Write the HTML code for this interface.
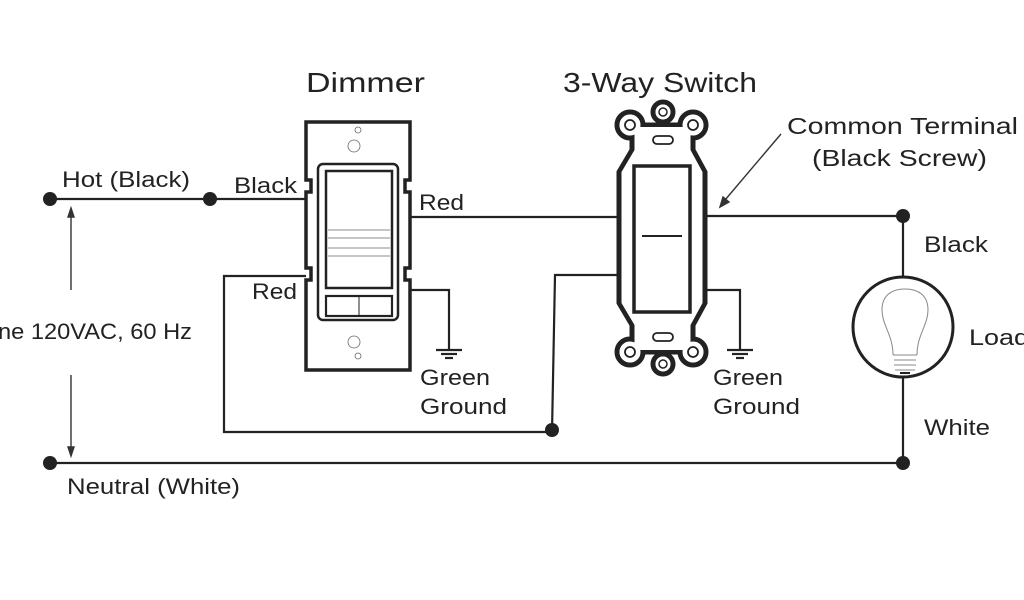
<!DOCTYPE html>
<html><head><meta charset="utf-8"><style>
html,body{margin:0;padding:0;background:#fff;}
svg{display:block;}
text{font-family:"Liberation Sans",sans-serif;fill:#222;}
</style></head><body>
<svg width="1024" height="600" viewBox="0 0 1024 600" xmlns="http://www.w3.org/2000/svg">
<g stroke="#222" fill="none" stroke-width="2.2">
<line x1="50" y1="199" x2="306" y2="199"/>
<line x1="410" y1="217" x2="618" y2="217"/>
<polyline points="306,276 224,276 224,432 552,432"/>
<polyline points="552,432 555,275 618,275"/>
<polyline points="410,290 449,290 449,350"/>
<polyline points="705,290 740,290 740,350"/>
<polyline points="705,216 903,216 903,278"/>
<line x1="903" y1="377" x2="903" y2="463"/>
<line x1="50" y1="463" x2="903" y2="463"/>
<line x1="436" y1="350" x2="462" y2="350"/><line x1="441" y1="354" x2="457" y2="354"/><line x1="445" y1="358" x2="453" y2="358"/>
<line x1="727" y1="350" x2="753" y2="350"/><line x1="732" y1="354" x2="748" y2="354"/><line x1="736" y1="358" x2="744" y2="358"/>
</g>
<g stroke="#333" stroke-width="1.4" fill="#333">
<line x1="71" y1="290" x2="71" y2="214"/><polygon points="71,208 68,217 74,217"/>
<line x1="71" y1="375" x2="71" y2="450"/><polygon points="71,456 68,447 74,447"/>
<line x1="781" y1="134" x2="725" y2="200"/><polygon points="720,207 723,197 729,202"/>
</g>
<g fill="#222">
<circle cx="50" cy="199" r="7"/><circle cx="210" cy="199" r="7"/>
<circle cx="552" cy="430" r="7"/><circle cx="903" cy="216" r="7"/>
<circle cx="903" cy="463" r="7"/><circle cx="50" cy="463" r="7"/>
</g>
<g stroke="#222" fill="#fff">
<path d="M306,122 H410 V180 H405 V192 H410 V268 H405 V280 H410 V370 H306 V280 H311 V268 H306 V192 H311 V180 H306 Z" stroke-width="3.5" fill="#fff"/>
<rect x="318" y="164" width="80" height="156" rx="5" stroke-width="2.5"/>
<rect x="326" y="171" width="66" height="117" stroke-width="2.5"/>
<rect x="326" y="296" width="66" height="20" stroke-width="2.2"/>
<line x1="359" y1="296" x2="359" y2="316" stroke-width="1"/>
<g stroke-width="0.8" stroke="#666" fill="none">
<line x1="328" y1="230" x2="390" y2="230"/><line x1="328" y1="238" x2="390" y2="238"/>
<line x1="328" y1="248" x2="390" y2="248"/><line x1="328" y1="256" x2="390" y2="256"/>
<rect x="348" y="140" width="12" height="12" rx="6"/><circle cx="358" cy="130" r="3"/>
<rect x="348" y="336" width="12" height="12" rx="6"/><circle cx="358" cy="356" r="3"/>
</g>
</g>
<g stroke="#222" stroke-width="5" fill="#fff">
<circle cx="630" cy="125" r="13"/><circle cx="693" cy="125" r="13"/>
<circle cx="630" cy="352" r="13"/><circle cx="693" cy="352" r="13"/>
<circle cx="663" cy="112" r="10"/><circle cx="663" cy="364" r="10"/>
<polygon points="619,172 632,150 632,125 693,125 693,150 705,172 705,303 693,325 693,352 632,352 632,325 619,303"/>
</g>
<g fill="#fff" stroke="none">
<circle cx="630" cy="125" r="10.5"/><circle cx="693" cy="125" r="10.5"/>
<circle cx="630" cy="352" r="10.5"/><circle cx="693" cy="352" r="10.5"/>
<circle cx="663" cy="112" r="7.5"/><circle cx="663" cy="364" r="7.5"/>
<polygon points="621.5,172 634.5,150 634.5,127 690.5,127 690.5,150 702.5,172 702.5,303 690.5,325 690.5,350 634.5,350 634.5,325 621.5,303"/>
</g>
<g stroke="#222" fill="none">
<circle cx="630" cy="125" r="5" stroke-width="1.8"/><circle cx="693" cy="125" r="5" stroke-width="1.8"/>
<circle cx="630" cy="352" r="5" stroke-width="1.8"/><circle cx="693" cy="352" r="5" stroke-width="1.8"/>
<circle cx="663" cy="112" r="4" stroke-width="1.5"/><circle cx="663" cy="364" r="4" stroke-width="1.5"/>
<rect x="653" y="136" width="20" height="8" rx="4" stroke-width="1.8"/>
<rect x="653" y="333" width="20" height="8" rx="4" stroke-width="1.8"/>
<rect x="634" y="166" width="56" height="146" stroke-width="3.5"/>
<line x1="642" y1="236" x2="682" y2="236" stroke-width="2"/>
</g>
<circle cx="903" cy="327" r="50" stroke="#222" stroke-width="3" fill="#fff"/>
<g stroke="#888" stroke-width="1" fill="none">
<path d="M893,355 C893,335 882,325 882,310 C882,295 892,289 905,289 C918,289 928,295 928,310 C928,325 917,335 917,355"/>
<path d="M893,355 L917,355 M894,360 L916,360 M894,365 L916,365 M895,370 L915,370"/>
</g>
<path d="M900,373 L910,373" stroke="#222" stroke-width="2"/>
<g font-size="22">
<text x="306" y="92" font-size="28" textLength="119" lengthAdjust="spacingAndGlyphs">Dimmer</text>
<text x="563" y="92" font-size="28" textLength="194" lengthAdjust="spacingAndGlyphs">3-Way Switch</text>
<text x="62" y="187" textLength="128" lengthAdjust="spacingAndGlyphs">Hot (Black)</text>
<text x="234" y="193" textLength="63" lengthAdjust="spacingAndGlyphs">Black</text>
<text x="252" y="299" textLength="45" lengthAdjust="spacingAndGlyphs">Red</text>
<text x="419" y="210" textLength="45" lengthAdjust="spacingAndGlyphs">Red</text>
<text x="-2" y="339" textLength="194" lengthAdjust="spacingAndGlyphs">ne 120VAC, 60 Hz</text>
<text x="67" y="494" textLength="173" lengthAdjust="spacingAndGlyphs">Neutral (White)</text>
<text x="420" y="385" textLength="70" lengthAdjust="spacingAndGlyphs">Green</text>
<text x="420" y="414" textLength="87" lengthAdjust="spacingAndGlyphs">Ground</text>
<text x="713" y="385" textLength="70" lengthAdjust="spacingAndGlyphs">Green</text>
<text x="713" y="414" textLength="87" lengthAdjust="spacingAndGlyphs">Ground</text>
<text x="787" y="134" font-size="23" textLength="231" lengthAdjust="spacingAndGlyphs">Common Terminal</text>
<text x="812" y="166" font-size="23" textLength="175" lengthAdjust="spacingAndGlyphs">(Black Screw)</text>
<text x="924" y="252" textLength="64" lengthAdjust="spacingAndGlyphs">Black</text>
<text x="969" y="345" textLength="60" lengthAdjust="spacingAndGlyphs">Load</text>
<text x="924" y="435" textLength="66" lengthAdjust="spacingAndGlyphs">White</text>
</g>
</svg>
</body></html>
